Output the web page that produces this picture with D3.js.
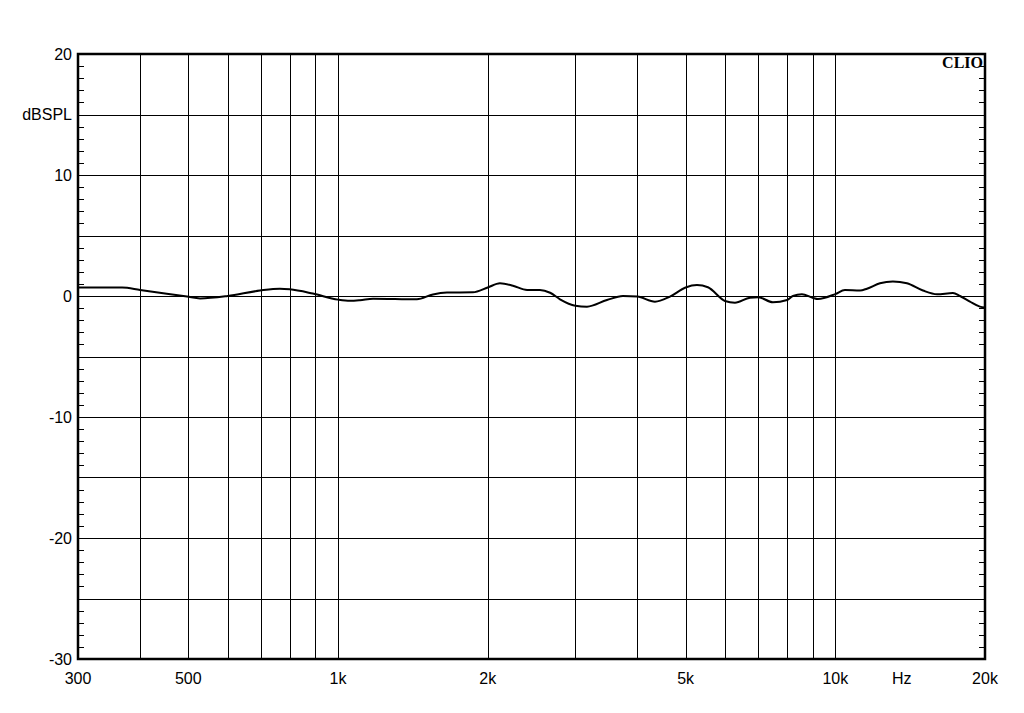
<!DOCTYPE html>
<html>
<head>
<meta charset="utf-8">
<style>
  body { margin: 0; background: #fff; }
  svg { display: block; }
</style>
</head>
<body>
<svg id="chart"></svg>
<script src="https://d3js.org/d3.v7.min.js"></script>
<script>
var width = 1024, height = 713;
var margin = {left: 78, right: 39, top: 54, bottom: 54};

// frequency response (Hz, dBSPL)
var freqs = [300, 368, 400, 497, 528, 600, 697, 764, 800, 890, 1000, 1057, 1107,
  1176, 1441, 1552, 1656, 1868, 2000, 2117, 2248, 2400, 2547, 2670, 2795, 3000,
  3167, 3474, 3740, 4000, 4339, 4651, 5000, 5270, 5545, 6000, 6284, 6735, 7000,
  7490, 8000, 8218, 8568, 9000, 9228, 10000, 10458, 11212, 11580, 12297, 13056,
  13935, 15004, 16016, 17242, 17811, 18654, 19530, 20000];
var levels = [0.7, 0.7, 0.5, -0.05, -0.2, 0.0, 0.45, 0.6, 0.55, 0.2, -0.3, -0.4, -0.35,
  -0.22, -0.27, 0.13, 0.28, 0.3, 0.7, 1.05, 0.85, 0.5, 0.5, 0.27, -0.27, -0.8,
  -0.88, -0.33, 0.0, -0.05, -0.47, -0.05, 0.7, 0.9, 0.72, -0.41, -0.55, -0.14, -0.1,
  -0.52, -0.33, 0.0, 0.14, -0.14, -0.25, 0.16, 0.5, 0.45, 0.6, 1.05, 1.2,
  1.05, 0.45, 0.14, 0.25, 0.0, -0.47, -0.88, -0.95];

var xGrid = [400, 500, 600, 700, 800, 900, 1000, 2000, 3000, 4000, 5000, 6000, 7000, 8000, 9000, 10000];
var xLabels = [[300, "300"], [500, "500"], [1000, "1k"], [2000, "2k"], [5000, "5k"], [10000, "10k"], [13600, "Hz"], [20000, "20k"]];
var yGrid = [-25, -20, -15, -10, -5, 0, 5, 10, 15];
var yLabels = [[20, "20"], [15, "dBSPL"], [10, "10"], [0, "0"], [-10, "-10"], [-20, "-20"], [-30, "-30"]];

var svg = d3.select("#chart").attr("width", width).attr("height", height);

var x = d3.scaleLog().domain([300, 20000]).range([margin.left, width - margin.right]);
var y = d3.scaleLinear().domain([-30, 20]).range([height - margin.bottom, margin.top]);

var grid = svg.append("g").attr("stroke", "#000").attr("stroke-width", 1).attr("shape-rendering", "crispEdges");
grid.selectAll(".vx").data(xGrid).enter().append("line")
  .attr("x1", d => Math.round(x(d)) + 0.5).attr("x2", d => Math.round(x(d)) + 0.5)
  .attr("y1", y(20)).attr("y2", y(-30));
grid.selectAll(".hy").data(yGrid).enter().append("line")
  .attr("y1", d => Math.round(y(d)) + 0.5).attr("y2", d => Math.round(y(d)) + 0.5)
  .attr("x1", x(300)).attr("x2", x(20000));

// minor ticks every 1 dB, inward on both sides
var minor = d3.range(-29, 20);
grid.selectAll(".tl").data(minor).enter().append("line")
  .attr("y1", d => Math.round(y(d)) + 0.5).attr("y2", d => Math.round(y(d)) + 0.5)
  .attr("x1", x(300)).attr("x2", x(300) + 6);
grid.selectAll(".tr").data(minor).enter().append("line")
  .attr("y1", d => Math.round(y(d)) + 0.5).attr("y2", d => Math.round(y(d)) + 0.5)
  .attr("x1", x(20000)).attr("x2", x(20000) - 6);

svg.append("rect")
  .attr("x", x(300)).attr("y", y(20))
  .attr("width", x(20000) - x(300)).attr("height", y(-30) - y(20))
  .attr("fill", "none").attr("stroke", "#000").attr("stroke-width", 2.5);

var line = d3.line()
  .x((d, i) => x(freqs[i]))
  .y(d => y(d))
  .curve(d3.curveMonotoneX);
svg.append("path").datum(levels)
  .attr("d", line)
  .attr("fill", "none").attr("stroke", "#000").attr("stroke-width", 2);

svg.selectAll(".yl").data(yLabels).enter().append("text")
  .attr("x", 72).attr("y", d => y(d[0]))
  .attr("dy", "0.36em")
  .attr("text-anchor", "end")
  .attr("font-family", "Liberation Sans, Arial, sans-serif")
  .attr("font-size", 16)
  .attr("fill", "#000")
  .text(d => d[1]);

svg.selectAll(".xl").data(xLabels).enter().append("text")
  .attr("x", d => x(d[0])).attr("y", 684)
  .attr("text-anchor", "middle")
  .attr("font-family", "Liberation Sans, Arial, sans-serif")
  .attr("font-size", 16)
  .attr("fill", "#000")
  .text(d => d[1]);

svg.append("text")
  .attr("x", x(20000) - 2).attr("y", 68)
  .attr("text-anchor", "end")
  .attr("font-family", "Liberation Serif, Times New Roman, serif")
  .attr("font-weight", "bold")
  .attr("font-size", 16)
  .attr("fill", "#000")
  .text("CLIO");
</script>
</body>
</html>
